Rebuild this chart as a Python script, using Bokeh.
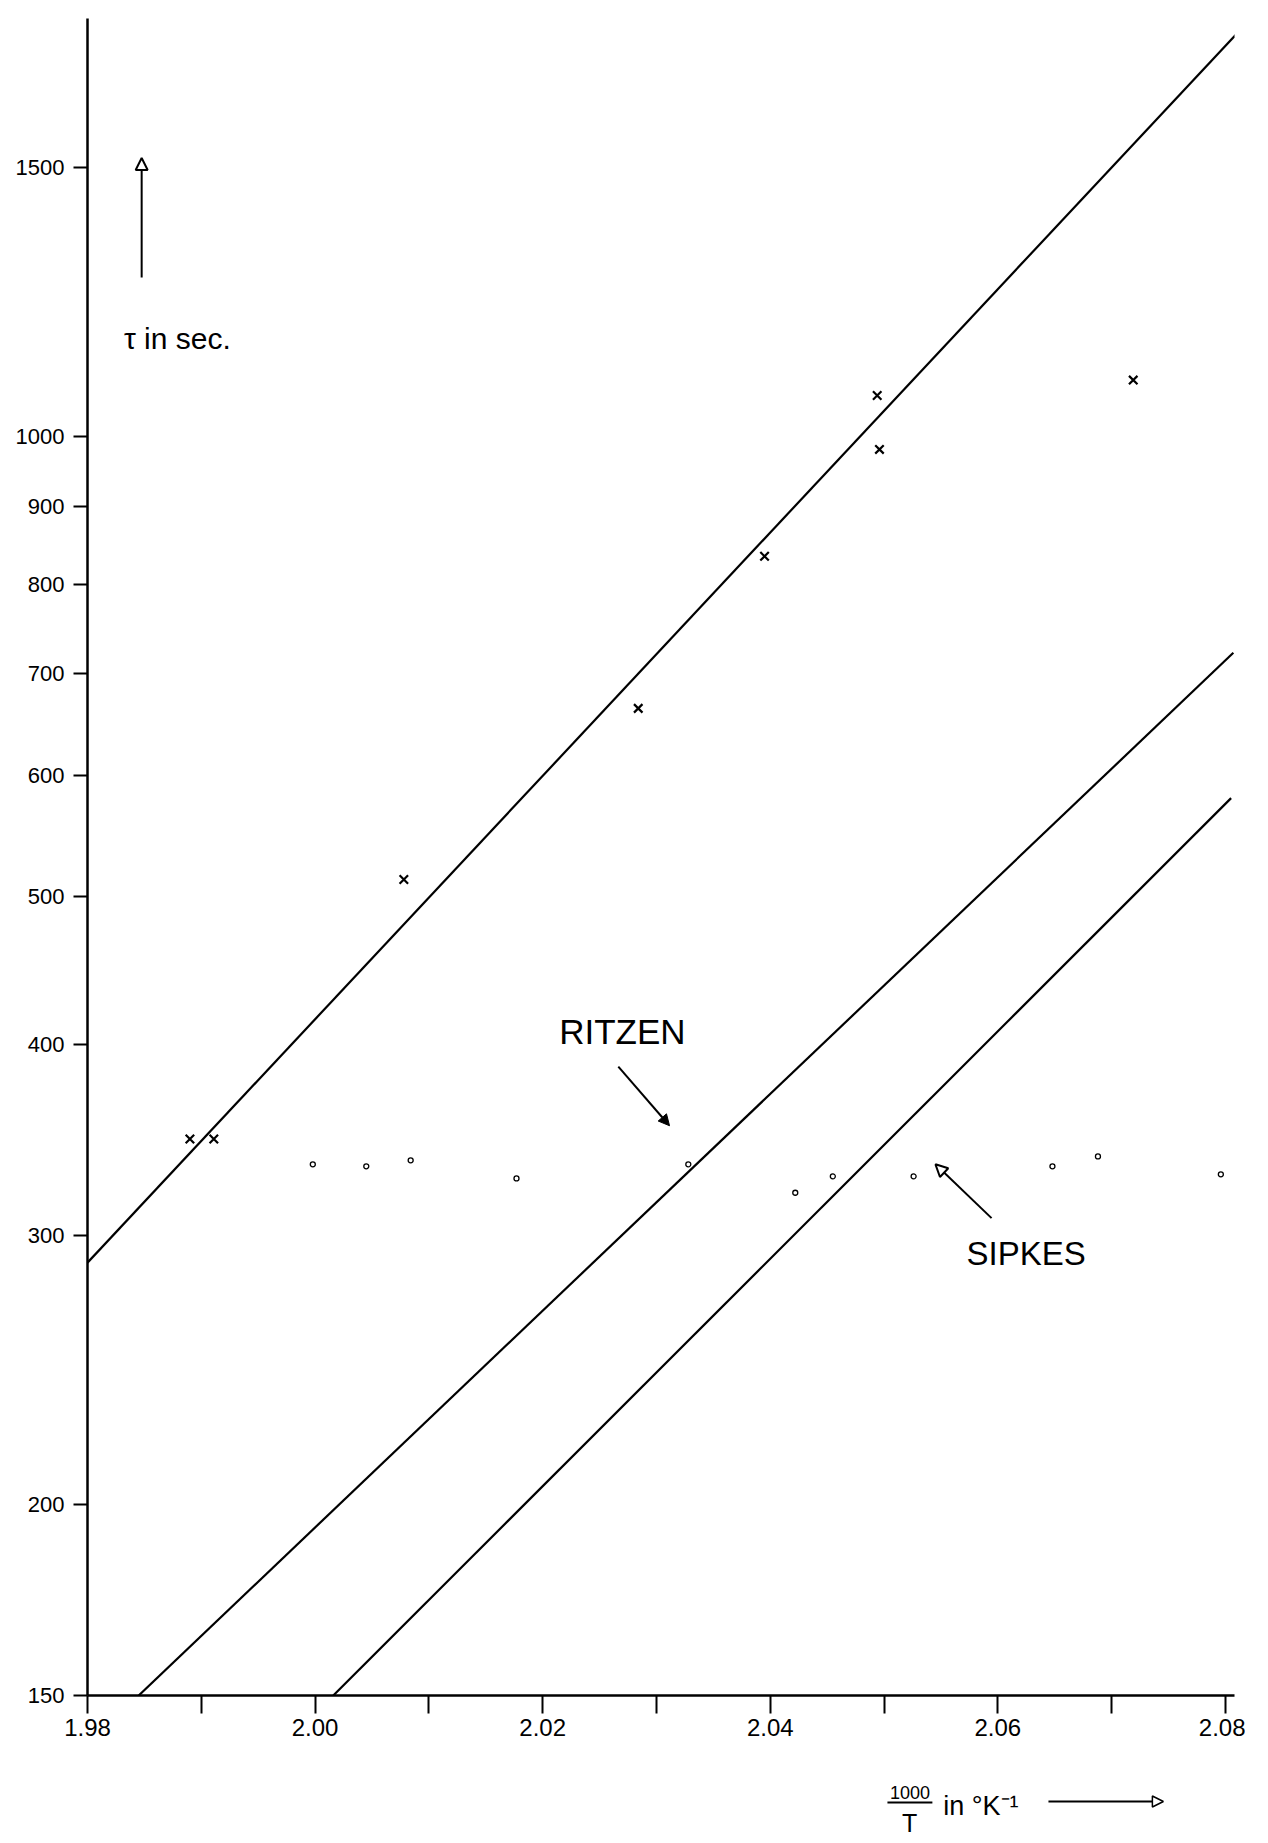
from bokeh.plotting import figure
from bokeh.layouts import column
from bokeh.models import FixedTicker, Arrow, NormalHead, Label
from bokeh.embed import file_html
from bokeh.resources import INLINE

# ---- data ----
x_major = [1.98, 2.00, 2.02, 2.04, 2.06, 2.08]
x_major_labels = ["1.98", "2.00", "2.02", "2.04", "2.06", "2.08"]
x_minor = [1.99, 2.01, 2.03, 2.05, 2.07]
y_ticks = [150, 200, 300, 400, 500, 600, 700, 800, 900, 1000, 1500]
y_tick_labels = ["150", "200", "300", "400", "500", "600", "700", "800", "900", "1000", "1500"]

cross_x = [1.9890, 1.9911, 2.0078, 2.0284, 2.0395, 2.0494, 2.0496, 2.0719]
cross_y = [347, 347, 513, 664, 835, 1064, 981, 1089]

circle_x = [1.9998, 2.0045, 2.0084, 2.0177, 2.0328, 2.0422, 2.0455, 2.0526, 2.0648, 2.0688, 2.0796]
circle_y = [334, 333, 336, 327, 334, 320, 328, 328, 333, 338, 329]

fit_x = [1.98, 2.0811]
fit_y = [288, 1839]
ritzen_x = [1.9845, 2.0807]
ritzen_y = [150, 722]
sipkes_x = [2.0016, 2.0805]
sipkes_y = [150, 580]

FONT = "Liberation Sans"
W = 1245
LEFT = 87
RIGHT = 11

p = figure(width=W, height=1765, x_range=(1.98, 2.0808), y_range=(150, 1878),
           y_axis_type="log", output_backend="svg", toolbar_location=None,
           min_border_left=LEFT, min_border_right=RIGHT, min_border_top=18, min_border_bottom=70)
p.outline_line_color = None
p.xgrid.visible = False
p.ygrid.visible = False
p.background_fill_color = "white"
p.border_fill_color = "white"

xa = p.xaxis[0]
xa.ticker = FixedTicker(ticks=x_major, minor_ticks=x_minor)
xa.major_label_overrides = {v: s for v, s in zip(x_major, x_major_labels)}
xa.axis_line_width = 2.5
xa.major_tick_line_width = 2
xa.minor_tick_line_width = 2
xa.major_tick_out = 18
xa.major_tick_in = 0
xa.minor_tick_out = 18
xa.minor_tick_in = 0
xa.major_label_standoff = 5
xa.major_label_text_font = FONT
xa.major_label_text_font_size = "24px"
xa.major_label_text_color = "black"

ya = p.yaxis[0]
ya.ticker = FixedTicker(ticks=y_ticks, minor_ticks=[])
ya.major_label_overrides = {v: s for v, s in zip(y_ticks, y_tick_labels)}
ya.axis_line_width = 2.5
ya.major_tick_line_width = 2
ya.major_tick_out = 14
ya.major_tick_in = 0
ya.minor_tick_out = 0
ya.minor_tick_in = 0
ya.major_label_standoff = 9
ya.major_label_text_font = FONT
ya.major_label_text_font_size = "22px"
ya.major_label_text_color = "black"

# lines
for xs, ys in [(fit_x, fit_y), (ritzen_x, ritzen_y), (sipkes_x, sipkes_y)]:
    p.line(xs, ys, line_color="black", line_width=2.2)

# points
p.scatter(cross_x, cross_y, marker="x", size=12, line_color="black", line_width=2.2)
p.scatter(circle_x, circle_y, marker="circle", size=5, fill_color="white",
          line_color="black", line_width=1.3)

# annotations
def lab(fig, x, y, text, size, align="left"):
    fig.add_layout(Label(x=x, y=y, text=text, text_font=FONT, text_font_size=size,
                         text_color="black", text_align=align, text_baseline="alphabetic"))

lab(p, 2.02145, 408, "RITZEN", "35px")
lab(p, 2.05725, 292, "SIPKES", "33px")
lab(p, 1.98320, 1159, "τ in sec.", "30px")

p.add_layout(Arrow(x_start=2.02665, y_start=387, x_end=2.03115, y_end=354, line_width=2,
                   end=NormalHead(size=11, fill_color="black", line_color="black")))
p.add_layout(Arrow(x_start=2.05945, y_start=308, x_end=2.05452, y_end=334, line_width=2,
                   end=NormalHead(size=12, fill_color="white", line_color="black", line_width=2)))
p.add_layout(Arrow(x_start=1.98476, y_start=1271, x_end=1.98476, y_end=1522, line_width=2,
                   end=NormalHead(size=12, fill_color="white", line_color="black", line_width=2)))

# x-axis title strip below the plot (same horizontal scale)
p2 = figure(width=W, height=70, x_range=p.x_range, y_range=(0, 70),
            x_axis_location=None, y_axis_location=None,
            output_backend="svg", toolbar_location=None,
            min_border_left=LEFT, min_border_right=RIGHT, min_border_top=0, min_border_bottom=0)
p2.outline_line_color = None
p2.xgrid.visible = False
p2.ygrid.visible = False
p2.background_fill_color = "white"
p2.border_fill_color = "white"

lab(p2, 2.05228, 43, "1000", "18px", "center")
p2.add_layout(Arrow(x_start=2.05030, y_start=33, x_end=2.05425, y_end=33,
                    line_width=1.8, start=None, end=None))
lab(p2, 2.05226, 13, "T", "25px", "center")
lab(p2, 2.05520, 30, "in °K⁻¹", "27px")
p2.add_layout(Arrow(x_start=2.06445, y_start=34, x_end=2.07455, y_end=34, line_width=2,
                    end=NormalHead(size=11, fill_color="white", line_color="black", line_width=1.5)))

layout = column(p, p2, spacing=0)
open("out.html", "w").write(file_html(layout, INLINE))
